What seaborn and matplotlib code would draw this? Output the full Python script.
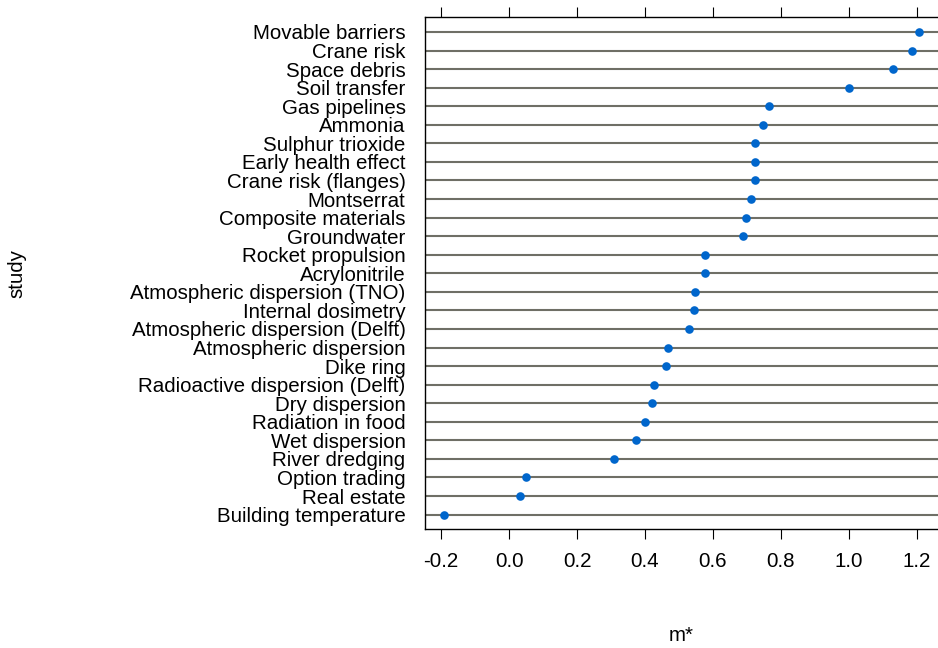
# Dot plot of m* per study (lattice-style dotplot)
import pandas as pd
import numpy as np
import seaborn as sns
import matplotlib
matplotlib.use("Agg")
import matplotlib.pyplot as plt

# data, top row first
studies = [
    "Movable barriers", "Crane risk", "Space debris", "Soil transfer",
    "Gas pipelines", "Ammonia", "Sulphur trioxide", "Early health effect",
    "Crane risk (flanges)", "Montserrat", "Composite materials", "Groundwater",
    "Rocket propulsion", "Acrylonitrile", "Atmospheric dispersion (TNO)",
    "Internal dosimetry", "Atmospheric dispersion (Delft)",
    "Atmospheric dispersion", "Dike ring", "Radioactive dispersion (Delft)",
    "Dry dispersion", "Radiation in food", "Wet dispersion", "River dredging",
    "Option trading", "Real estate", "Building temperature",
]
m_star = [
    1.207, 1.188, 1.131, 1.002,
    0.766, 0.749, 0.725, 0.724,
    0.724, 0.713, 0.698, 0.689,
    0.578, 0.578, 0.547,
    0.544, 0.530,
    0.469, 0.462, 0.428,
    0.420, 0.400, 0.374, 0.308,
    0.049, 0.032, -0.192,
]
x_ticks = [-0.2, 0.0, 0.2, 0.4, 0.6, 0.8, 1.0, 1.2]

df = pd.DataFrame({"study": studies, "m": m_star})

sns.set_theme(style="white")
plt.rcParams["font.family"] = ["Liberation Sans", "DejaVu Sans"]
fs = 14.8

fig = plt.figure(figsize=(9.38, 6.48), dpi=100)
ax = fig.add_axes([0.4531, 0.1832, 0.5469, 0.7901])

sns.stripplot(data=df, x="m", y="study", order=studies, jitter=False,
              color="#0066cc", size=6.2, linewidth=0, ax=ax, zorder=3)

# gray reference line across each row
for i in range(len(studies)):
    ax.axhline(i, color="#6f6f66", linewidth=1.5, zorder=1)

ax.set_xlim(-0.2477, 1.2631)
ax.set_ylim(len(studies) - 1 + 0.79, -0.79)
ax.set_xticks(x_ticks)
ax.set_xticklabels([f"{t:.1f}" for t in x_ticks])

for s in ax.spines.values():
    s.set_color("black")
    s.set_linewidth(1.0)
ax.spines["right"].set_visible(False)

ax.tick_params(axis="x", which="both", bottom=True, top=True, labelbottom=True,
               labeltop=False, direction="out", length=7, width=0.8,
               color="black", labelsize=fs, pad=9, labelcolor="black")
ax.tick_params(axis="y", left=False, length=0, pad=14, labelsize=fs,
               labelcolor="black")

ax.set_ylabel("")
ax.set_xlabel("m*", fontsize=fs, labelpad=40, color="black")
fig.text(0.0176, 0.578, "study", rotation=90, ha="center", va="center",
         fontsize=fs, color="black")

fig.savefig("out.png", dpi=100)
